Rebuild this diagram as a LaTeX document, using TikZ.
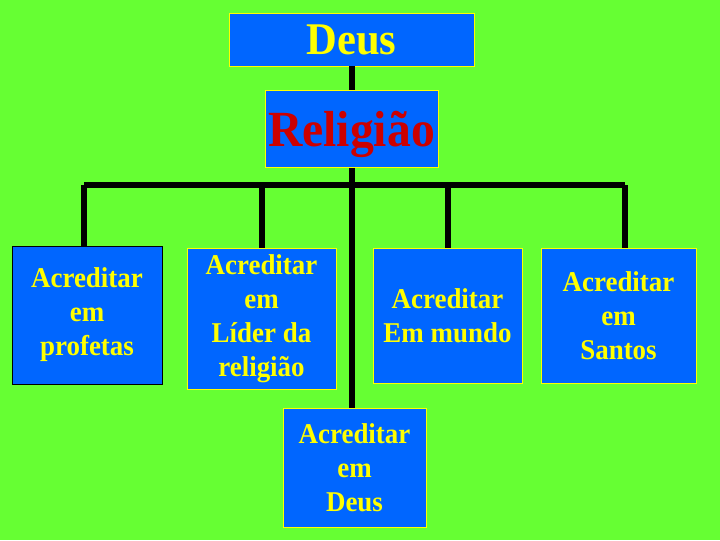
\documentclass[tikz,border=0pt]{standalone}
\usepackage{fontspec}
\setmainfont{Liberation Serif}
\newfontfamily\estreita[FakeStretch=0.94]{Liberation Serif}
\usepackage{xcolor}
\usepackage{tikz}
\definecolor{fundo}{HTML}{66FF33}
\definecolor{azul}{HTML}{0066FF}
\definecolor{amarelo}{HTML}{FFFF00}
\definecolor{vermelho}{HTML}{CC0000}
\tikzset{
  bloco/.style={fill=azul, draw=amarelo, line width=0.6pt, inner sep=0pt,
    align=center, text=amarelo, font=\estreita\bfseries\fontsize{21.5}{25.5}\selectfont},
  ligacao/.style={line width=4.5pt, black}
}

\begin{document}
\begin{tikzpicture}[x=0.75pt, y=-0.75pt]
            \fill[fundo] (0, 0) rectangle (720, 540);

            \node[bloco, minimum width=183.75pt, minimum height=39.75pt, text depth=0pt,
              font=\estreita\bfseries\fontsize{34}{38}\selectfont] (deus) at (351.5, 39.5) {Deus};
            \node[bloco, minimum width=129.75pt, minimum height=57.75pt, text depth=0pt, text=vermelho,
              font=\estreita\bfseries\fontsize{38}{42}\selectfont] (relig) at (351.5, 129) {Religião};

            \node[bloco, draw=black, minimum width=112.5pt, minimum height=103.5pt] (profetas) at (87, 315) {Acreditar\\em\\profetas};
            \node[bloco, minimum width=111.75pt, minimum height=105.75pt] (lider) at (261.5, 318.5) {Acreditar\\em\\Líder da\\religião};
            \node[bloco, minimum width=111.75pt, minimum height=101.25pt] (mundo) at (447.5, 315.5) {Acreditar\\Em mundo};
            \node[bloco, minimum width=116.25pt, minimum height=101.25pt] (santos) at (618.5, 315.5) {Acreditar\\em\\Santos};
            \node[bloco, minimum width=107.25pt, minimum height=89.25pt] (crer) at (354.5, 467.5) {Acreditar\\em\\Deus};

            \coordinate (esq) at (84, 185);
            \coordinate (dir) at (625, 185);

            \draw[ligacao] (deus.south) -- (relig.north);
            \draw[ligacao] (relig.south) -- (relig.south |- crer.north);
            \draw[ligacao] (esq) -- (dir);
            \draw[ligacao] (esq) -- (esq |- profetas.north);
            \draw[ligacao] (lider.north |- esq) -- (lider.north);
            \draw[ligacao] (mundo.north |- esq) -- (mundo.north);
            \draw[ligacao] (dir) -- (dir |- santos.north);

        \end{tikzpicture}
\end{document}
